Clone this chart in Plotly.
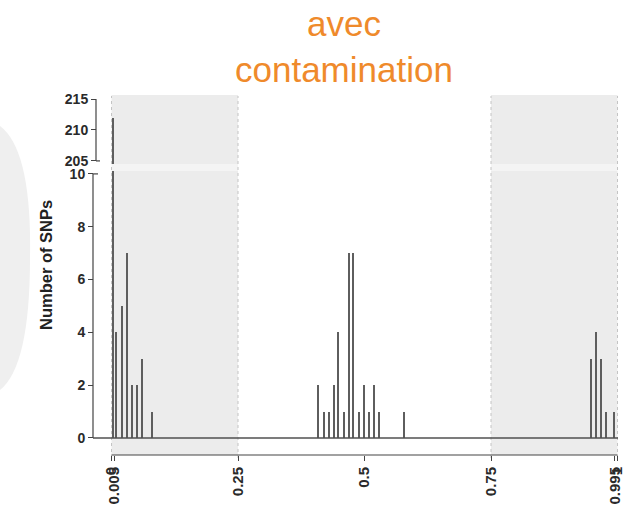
import plotly.graph_objects as go

# ---- data ----
bin_pos = [0.002, 0.008, 0.02, 0.03, 0.04, 0.05, 0.06, 0.08,
           0.409, 0.419, 0.429, 0.439, 0.448, 0.459, 0.469, 0.478, 0.489,
           0.499, 0.508, 0.519, 0.529, 0.579,
           0.948, 0.958, 0.967, 0.977, 0.994]
snp_count = [212, 4, 5, 7, 2, 2, 3, 1,
             2, 1, 1, 2, 4, 1, 7, 7, 1,
             2, 1, 2, 1, 1,
             3, 4, 3, 1, 1]
x_tickvals = [0, 0.005, 0.25, 0.5, 0.75, 0.995, 1]
x_ticktext = ["0", "0.005", "0.25", "0.5", "0.75", "0.995", "1"]
y_low_ticks = [0, 2, 4, 6, 8, 10]
y_high_ticks = [205, 210, 215]
shade_regions = [(0, 0.25), (0.75, 1)]
title_text = "avec<br>contamination"
y_title = "Number of SNPs"

W, H = 626, 508
def px(x): return x / W
def py(y): return 1 - y / H

X_DOM = [px(93), px(618)]
LOW_DOM = [py(455), py(171)]
HIGH_DOM = [py(164), py(95)]

bar_color = "#5e5e5e"
fig = go.Figure()
for yax in ["y", "y2"]:
    fig.add_trace(go.Bar(x=bin_pos, y=snp_count, width=0.004,
                         marker=dict(color=bar_color, line=dict(width=0)),
                         xaxis="x", yaxis=yax, showlegend=False, hoverinfo="skip"))

tickfont = dict(family="Liberation Sans, Arial", size=14, color="#2a2a2a", weight="bold")

shapes = []
# left slide decoration
shapes.append(dict(type="path", xref="paper", yref="paper",
                   path=f"M 0,{py(126)} Q {px(32)},{py(150)} {px(30)},{py(258)} Q {px(30)},{py(366)} 0,{py(390)} Z",
                   fillcolor="#efefef", line=dict(width=0), layer="below"))
# shaded regions per panel
for (a, b) in shade_regions:
    for ref in ["y domain", "y2 domain"]:
        shapes.append(dict(type="rect", xref="x", yref=ref, x0=a, x1=b, y0=0, y1=1,
                           fillcolor="#ececec", line=dict(width=0), layer="below"))
    shapes.append(dict(type="rect", xref="x", yref="paper", x0=a, x1=b,
                       y0=HIGH_DOM[0], y1=LOW_DOM[1],
                       fillcolor="#f4f4f4", line=dict(width=0), layer="below"))
# dotted borders of shaded regions
for v in [0, 0.25, 0.75, 1]:
    shapes.append(dict(type="line", xref="x", yref="paper", x0=v, x1=v,
                       y0=py(458), y1=py(96), line=dict(color="#c4c4c4", width=1, dash="dot"),
                       layer="below"))
# baseline y=0
shapes.append(dict(type="line", xref="x domain", yref="y", x0=0, x1=1, y0=0, y1=0,
                   line=dict(color="#505050", width=1.5)))
# axis lines (span first to last tick)
shapes.append(dict(type="line", xref="x", yref="paper", x0=0, x1=1, y0=LOW_DOM[0], y1=LOW_DOM[0],
                   line=dict(color="#444", width=1.2)))
shapes.append(dict(type="line", xref="paper", yref="y", x0=px(93), x1=px(93), y0=0, y1=10,
                   line=dict(color="#444", width=1.2)))
shapes.append(dict(type="line", xref="paper", yref="y2", x0=px(96), x1=px(96), y0=205, y1=215,
                   line=dict(color="#444", width=1.2)))
# break caps
shapes.append(dict(type="line", xref="paper", yref="y2", x0=px(96), x1=px(100), y0=205, y1=205,
                   line=dict(color="#444", width=1.2)))
shapes.append(dict(type="line", xref="paper", yref="y", x0=px(93), x1=px(98), y0=10, y1=10,
                   line=dict(color="#444", width=1.2)))

fig.update_layout(
    width=W, height=H, margin=dict(l=0, r=0, t=0, b=0, pad=0, autoexpand=False),
    paper_bgcolor="white", plot_bgcolor="rgba(0,0,0,0)",
    bargap=0, barmode="overlay",
    xaxis=dict(domain=X_DOM, range=[-0.0366, 1.001], anchor="y", automargin=False,
               tickmode="array", tickvals=x_tickvals, ticktext=x_ticktext,
               tickangle=-90, ticks="outside", ticklen=5, tickcolor="#444",
               showline=False, showgrid=False, zeroline=False,
               tickfont=dict(family="Liberation Sans, Arial", size=15, color="#2a2a2a", weight="bold")),
    yaxis=dict(domain=LOW_DOM, range=[-0.644, 10.11], anchor="free", position=px(93),
               automargin=False,
               tickmode="array", tickvals=y_low_ticks, ticks="outside", ticklen=5,
               tickcolor="#444", showline=False, showgrid=False, zeroline=False,
               tickfont=tickfont),
    yaxis2=dict(domain=HIGH_DOM, range=[204.5, 215.65], anchor="free", position=px(96),
                automargin=False,
                tickmode="array", tickvals=y_high_ticks, ticks="outside", ticklen=5,
                tickcolor="#444", showline=False, showgrid=False, zeroline=False,
                tickfont=tickfont),
    shapes=shapes,
    annotations=[
        dict(text=title_text, xref="paper", yref="paper", x=px(344), y=py(46),
             xanchor="center", yanchor="middle", showarrow=False,
             font=dict(family="Liberation Sans, Arial", size=35, color="#ef8a2b")),
        dict(text=y_title, xref="paper", yref="paper", x=px(46), y=py(265),
             xanchor="center", yanchor="middle", showarrow=False, textangle=-90,
             font=dict(family="Liberation Sans, Arial", size=16.5, color="#222", weight="bold")),
    ],
)

fig.write_html("out.html")
